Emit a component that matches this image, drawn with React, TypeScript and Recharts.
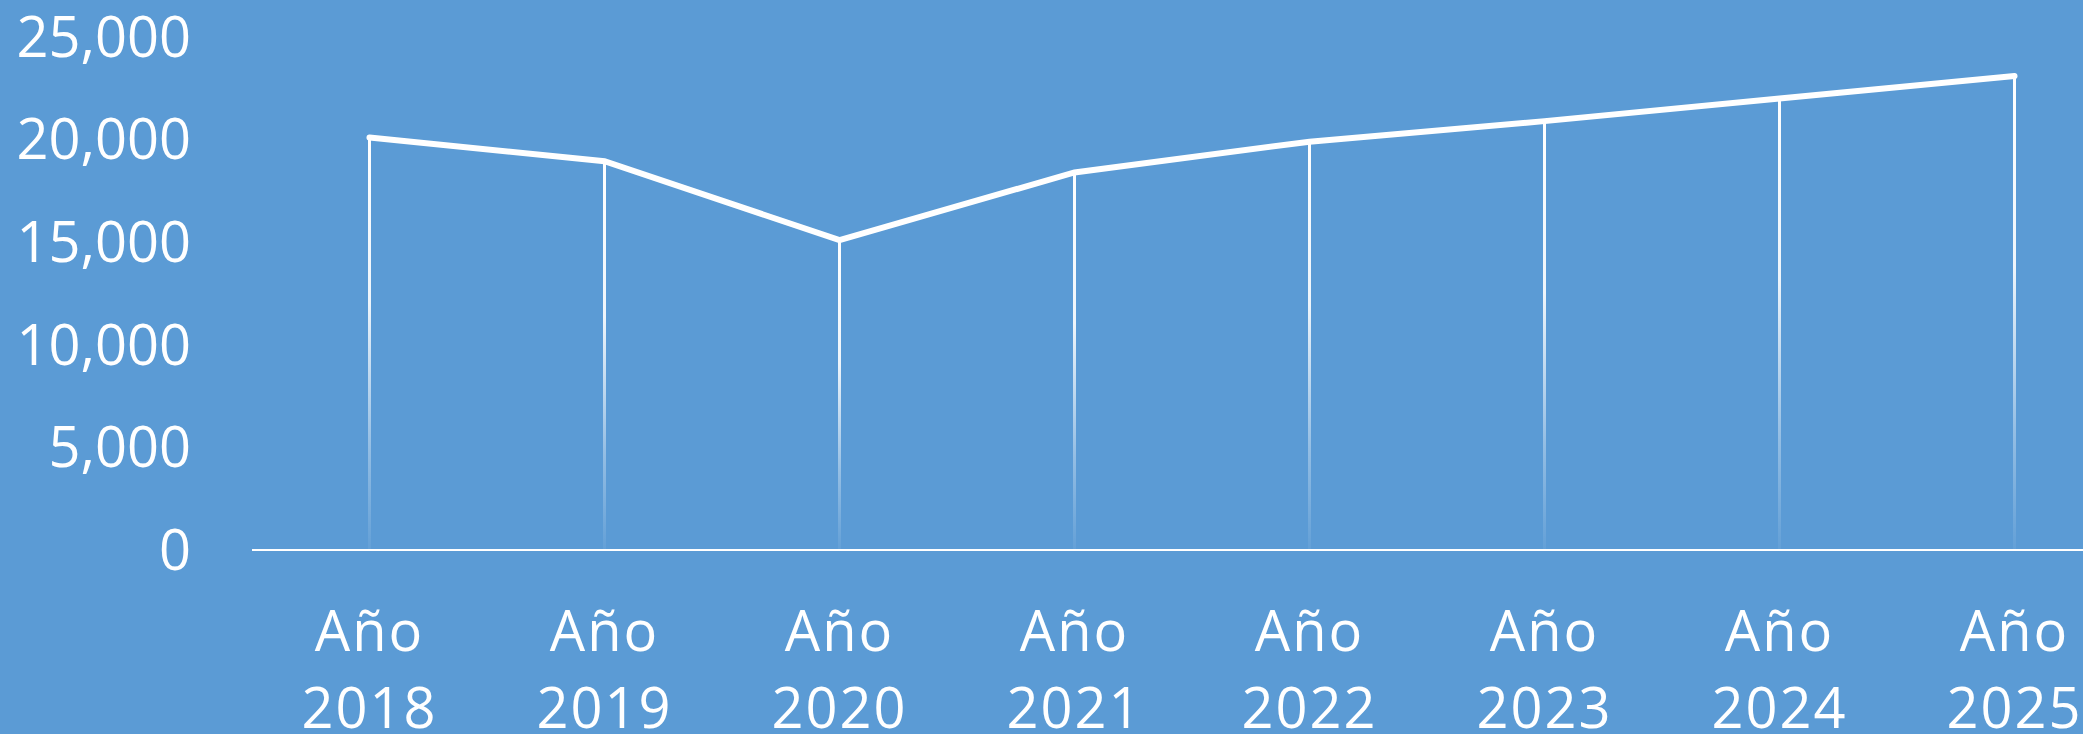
import { ComposedChart, Bar, Line, XAxis, YAxis } from 'recharts';

const years = ['2018', '2019', '2020', '2021', '2022', '2023', '2024', '2025'];
const values = [20100, 18950, 15100, 18400, 19900, 20900, 22000, 23100];
const yTicks = [0, 5000, 10000, 15000, 20000, 25000];

const data = years.map((year, i) => ({ year, value: values[i] }));

const FONT = '"Open Sans", sans-serif';

const YearTick = (props: any) => {
  const { x, y, payload } = props;
  return (
    <text
      x={x}
      y={y}
      textAnchor="middle"
      fill="#ffffff"
      fontFamily={FONT}
      fontSize={56}
      letterSpacing={2}
    >
      <tspan x={x} y={y + 101}>Año</tspan>
      <tspan x={x} y={y + 178}>{payload.value}</tspan>
    </text>
  );
};

const App = () => {
  return (
    <div
      style={{
        position: 'absolute',
        left: 0,
        top: 0,
        width: 2083,
        height: 734,
        overflow: 'hidden',
        background: '#5b9bd5',
      }}
    >
      <ComposedChart
        width={2132}
        height={734}
        data={data}
        margin={{ top: 37, right: 0, bottom: 0, left: 0 }}
      >
        <defs>
          <linearGradient id="drop" x1="0" y1="0" x2="0" y2="1">
            <stop offset="0%" stopColor="#ffffff" stopOpacity={1} />
            <stop offset="40%" stopColor="#ffffff" stopOpacity={0.9} />
            <stop offset="75%" stopColor="#ffffff" stopOpacity={0.35} />
            <stop offset="100%" stopColor="#ffffff" stopOpacity={0.05} />
          </linearGradient>
        </defs>
        <XAxis
          dataKey="year"
          height={184}
          tickLine={false}
          tickSize={0}
          tickMargin={0}
          axisLine={{ stroke: '#ffffff', strokeWidth: 2 }}
          tick={<YearTick />}
          interval={0}
        />
        <YAxis
          width={252}
          domain={[0, 25000]}
          ticks={yTicks}
          axisLine={false}
          tickLine={false}
          tickSize={6}
          tickMargin={55}
          tickFormatter={(v: number) => v.toLocaleString('en-US')}
          tick={{ fill: '#ffffff', fontSize: 56, fontFamily: FONT }}
        />
        <Bar dataKey="value" barSize={3} fill="url(#drop)" isAnimationActive={false} />
        <Line
          dataKey="value"
          type="linear"
          stroke="#ffffff"
          strokeWidth={6}
          strokeLinecap="round"
          dot={false}
          activeDot={false}
          isAnimationActive={false}
        />
      </ComposedChart>
    </div>
  );
};

export default App;
